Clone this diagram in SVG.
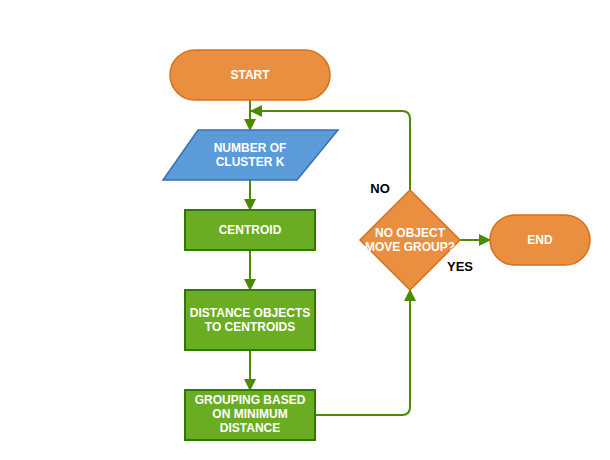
<svg xmlns="http://www.w3.org/2000/svg" width="610" height="460" viewBox="0 0 610 460">
<defs>
<marker id="arr" viewBox="0 0 12 12" refX="11" refY="6" markerWidth="12" markerHeight="12" markerUnits="userSpaceOnUse" orient="auto">
<path d="M0,0 L12,6 L0,12 Z" fill="#4d8a00"/>
</marker>
</defs>
<style>
.term{fill:#e98f3f;stroke:#d4711d;stroke-width:1.5}
.io{fill:#5b9bd9;stroke:#3b6fb0;stroke-width:1.5}
.proc{fill:#6aad22;stroke:#2d7a00;stroke-width:2}
.dec{fill:#e98f3f;stroke:#d4711d;stroke-width:1.5}
.lbl{font-family:"Liberation Sans",Arial,sans-serif;font-size:12px;font-weight:bold;fill:#ffffff;text-anchor:middle}
.elbl{font-family:"Liberation Sans",Arial,sans-serif;font-size:13px;font-weight:bold;fill:#000000;text-anchor:middle}
.conn{fill:none;stroke:#4d8a00;stroke-width:2;marker-end:url(#arr)}
</style>
<rect width="610" height="460" fill="#ffffff"/>
<g id="connectors">
<path class="conn" d="M250,100 L250,130"/>
<path class="conn" d="M410,190 L410,119 Q410,111 402,111 L251,111"/>
<path class="conn" d="M250,180 L250,210"/>
<path class="conn" d="M250,250 L250,290"/>
<path class="conn" d="M250,350 L250,390"/>
<path class="conn" d="M315,415 L402,415 Q410,415 410,407 L410,290"/>
<path class="conn" d="M460,240 L490,240"/>
<text class="elbl" x="380" y="193">NO</text>
<text class="elbl" x="460" y="271">YES</text>
</g>
<g id="start">
<rect class="term" x="170" y="50" width="160" height="50" rx="25" ry="25"/>
<text class="lbl" x="250" y="79">START</text>
</g>
<g id="cluster">
<polygon class="io" points="198,130 338,130 297,180 163,180"/>
<text class="lbl" x="250" y="152">NUMBER OF</text>
<text class="lbl" x="250" y="166">CLUSTER K</text>
</g>
<g id="centroid">
<rect class="proc" x="185" y="210" width="130" height="40"/>
<text class="lbl" x="250" y="234">CENTROID</text>
</g>
<g id="distance">
<rect class="proc" x="185" y="290" width="130" height="60"/>
<text class="lbl" x="250" y="317">DISTANCE OBJECTS</text>
<text class="lbl" x="250" y="331">TO CENTROIDS</text>
</g>
<g id="grouping">
<rect class="proc" x="185" y="390" width="130" height="50"/>
<text class="lbl" x="250" y="404">GROUPING BASED</text>
<text class="lbl" x="250" y="418">ON MINIMUM</text>
<text class="lbl" x="250" y="432">DISTANCE</text>
</g>
<g id="decision">
<polygon class="dec" points="410,190 460,240 410,290 360,240"/>
<text class="lbl" x="410" y="237">NO OBJECT</text>
<text class="lbl" x="410" y="251">MOVE GROUP?</text>
</g>
<g id="end">
<rect class="term" x="490" y="215" width="100" height="50" rx="25" ry="25"/>
<text class="lbl" x="540" y="244">END</text>
</g>
</svg>
